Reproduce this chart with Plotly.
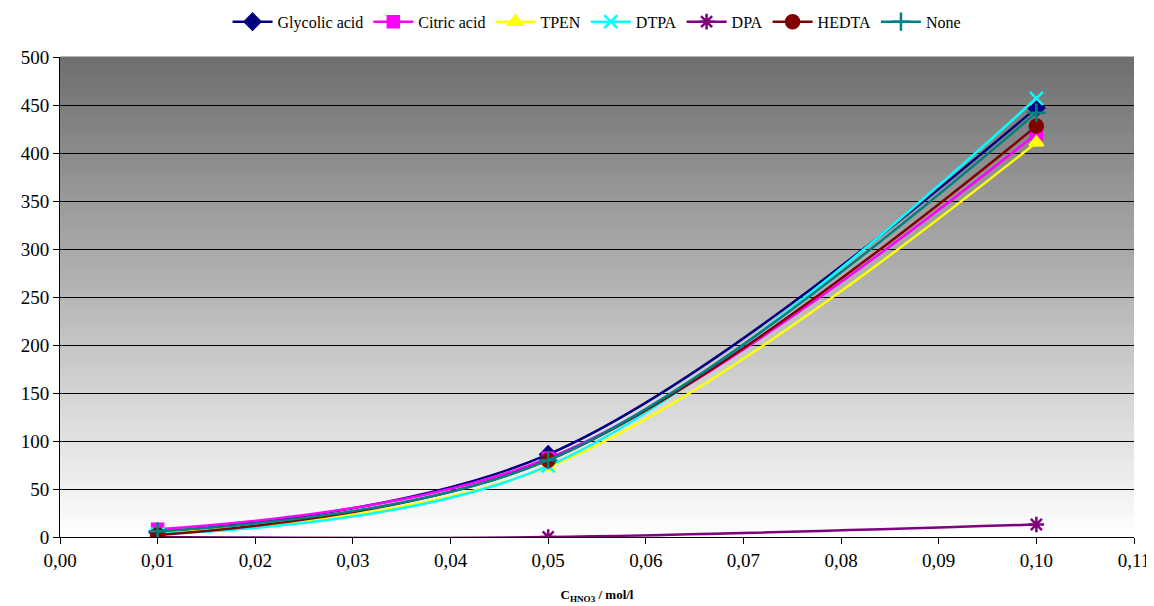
import plotly.graph_objects as go

x_vals = [0.01, 0.05, 0.10]
glycolic = [5, 86, 447]
citric = [8, 82, 420]
tpen = [4, 73, 411]
dtpa = [3, 74, 457]
dpa = [0, 0, 13]
hedta = [2, 80, 428]
none_ = [6, 80, 442]

series = [
    ("Glycolic acid", glycolic, "#000080", "diamond", 12),
    ("Citric acid", citric, "#FF00FF", "square", 11),
    ("TPEN", tpen, "#FFFF00", "triangle-up", 12),
    ("DTPA", dtpa, "#00FFFF", "x-thin-open", 13),
    ("DPA", dpa, "#800080", "asterisk-open", 13),
    ("HEDTA", hedta, "#800000", "circle", 13),
    ("None", none_, "#008080", "cross-thin-open", 13),
]

fig = go.Figure()
for name, ys, col, sym, sz in series:
    fig.add_trace(go.Scatter(
        x=x_vals, y=ys, name=name, mode="lines+markers",
        line=dict(color=col, width=2.5, shape="spline", smoothing=1),
        marker=dict(symbol=sym, size=sz, color=col, line=dict(color=col, width=2.5)),
    ))

# gradient background
n = 120
top = (0x6e, 0x6e, 0x6e)
for i in range(n):
    f0 = i / n
    f1 = (i + 1) / n
    t = (f0 + f1) / 2  # 0 bottom, 1 top
    c = tuple(int(round(255 + (tv - 255) * t)) for tv in top)
    fig.add_shape(type="rect", xref="x domain", yref="y domain",
                  x0=0, x1=1, y0=f0, y1=f1 + 0.001, layer="below",
                  line=dict(width=0), fillcolor="rgb(%d,%d,%d)" % c)

serif = "Times New Roman, Liberation Serif, serif"
fig.update_layout(
    width=1146, height=598,
    margin=dict(l=52, r=20, t=49, b=69, autoexpand=False),
    paper_bgcolor="white", plot_bgcolor="rgba(0,0,0,0)",
    separators=", ",
    font=dict(family=serif, color="black", size=19),
    showlegend=True,
    legend=dict(orientation="h", x=0.514, xanchor="center", xref="container",
                y=0.977, yanchor="middle", yref="container",
                font=dict(size=16, family=serif), itemwidth=40, traceorder="normal",
                bgcolor="rgba(0,0,0,0)"),
    xaxis=dict(range=[0, 0.11], tickvals=[i / 100 for i in range(12)], tickformat=".2f",
               showgrid=False, zeroline=False, showline=True, linecolor="black", linewidth=1,
               ticks="outside", ticklen=6, tickcolor="black",
               tickfont=dict(family=serif, size=19),
               title=dict(text="<b>C<sub>HNO3</sub> / mol/l</b>", font=dict(size=13, family=serif), standoff=20)),
    yaxis=dict(range=[0, 500], dtick=50, showgrid=True, gridcolor="black", gridwidth=1,
               zeroline=False, showline=True, linecolor="black", linewidth=1,
               ticks="outside", ticklen=6, tickcolor="black",
               tickfont=dict(family=serif, size=19)),
)

fig.write_html("out.html")
